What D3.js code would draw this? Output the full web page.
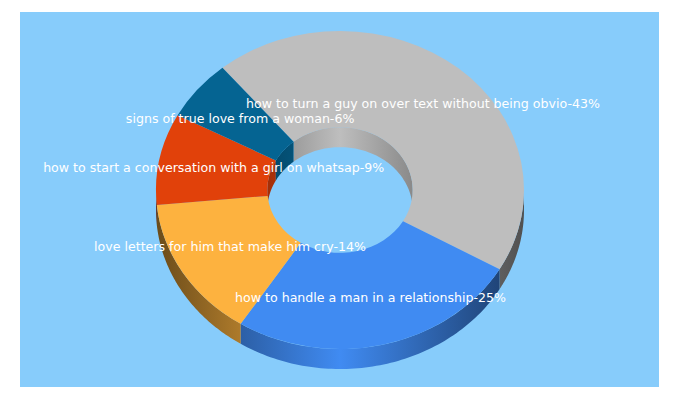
<!DOCTYPE html>
<html>
<head>
<meta charset="utf-8">
<script src="https://cdn.jsdelivr.net/npm/d3@7"></script>
<style>
  html, body { margin: 0; padding: 0; background: #fff; }
  svg { display: block; }
  text { font-family: "DejaVu Sans", sans-serif; font-size: 12.6px; fill: #fff; }
</style>
</head>
<body>
<svg id="chart" width="680" height="400"></svg>
<script>
var categories = [
  "how to turn a guy on over text without being obvio",
  "how to handle a man in a relationship",
  "love letters for him that make him cry",
  "how to start a conversation with a girl on whatsap",
  "signs of true love from a woman"
];
var percents = [43, 25, 14, 9, 6];
var colors = ["#bebebe", "#408bf2", "#fdb23f", "#e1410a", "#056492"];

var cx = 340, cy = 190, rx = 184, ry = 159, holeRatio = 0.395, depth = 20;
var startDeg = -39.7;

var svg = d3.select("#chart");
var defs = svg.append("defs");

svg.append("rect")
  .attr("x", 20).attr("y", 12)
  .attr("width", 639).attr("height", 375)
  .attr("fill", "#87ccfb");

var pie = d3.pie().sort(null)
  .startAngle(startDeg * Math.PI / 180)
  .endAngle((startDeg + 360) * Math.PI / 180);
var slices = pie(percents);

// point on the ellipse, angle clockwise from the top
function px(a, r) { return cx + rx * r * Math.sin(a); }
function py(a, r) { return cy - ry * r * Math.cos(a); }

// shade the sides by x so the ring looks lit from the middle
function sideGradient(id, color, xMin, xMax) {
  var g = defs.append("linearGradient")
    .attr("id", id)
    .attr("gradientUnits", "userSpaceOnUse")
    .attr("x1", xMin).attr("x2", xMax).attr("y1", 0).attr("y2", 0);
  [[0, 0.42], [0.5, 1], [1, 0.42]].forEach(function (s) {
    var c = d3.rgb(color);
    g.append("stop")
      .attr("offset", s[0])
      .attr("stop-color", d3.rgb(c.r * s[1], c.g * s[1], c.b * s[1]).formatHex());
  });
}

// band between an arc and the same arc moved down by depth
function wall(a0, a1, r) {
  var n = 80;
  var angles = d3.range(n + 1).map(function (i) { return a0 + (a1 - a0) * i / n; });
  var top = angles.map(function (a) { return [px(a, r), py(a, r)]; });
  var bottom = angles.slice().reverse().map(function (a) { return [px(a, r), py(a, r) + depth]; });
  return d3.line()(top.concat(bottom)) + "Z";
}

var twoPi = Math.PI * 2;

// visible part of an angle range, shifted by k turns
function clip(a0, a1, lo, hi) {
  var out = [];
  [-1, 0, 1].forEach(function (k) {
    var s = Math.max(a0 + k * twoPi, lo), e = Math.min(a1 + k * twoPi, hi);
    if (e > s) out.push([s, e]);
  });
  return out;
}

slices.forEach(function (d, i) {
  sideGradient("outer" + i, colors[i], cx - rx, cx + rx);
  sideGradient("inner" + i, colors[i], cx - rx * holeRatio * 2.1, cx + rx * holeRatio * 2.1);
});

var inner = svg.append("g");
var outer = svg.append("g");
slices.forEach(function (d, i) {
  // back half of the hole wall
  clip(d.startAngle, d.endAngle, -Math.PI / 2, Math.PI / 2).forEach(function (c) {
    inner.append("path").attr("d", wall(c[0], c[1], holeRatio)).attr("fill", "url(#inner" + i + ")");
  });
  // front half of the outer wall
  clip(d.startAngle, d.endAngle, Math.PI / 2, Math.PI * 1.5).forEach(function (c) {
    outer.append("path").attr("d", wall(c[0], c[1], 1)).attr("fill", "url(#outer" + i + ")");
  });
});

var arc = d3.arc().innerRadius(rx * holeRatio).outerRadius(rx);
svg.append("g")
  .attr("transform", "translate(" + cx + "," + cy + ") scale(1," + (ry / rx) + ")")
  .selectAll("path")
  .data(slices)
  .join("path")
  .attr("d", arc)
  .attr("fill", function (d, i) { return colors[i]; });

svg.append("g")
  .selectAll("text")
  .data(slices)
  .join("text")
  .attr("text-anchor", "middle")
  .attr("x", function (d) { return px((d.startAngle + d.endAngle) / 2, 0.7); })
  .attr("y", function (d) { return py((d.startAngle + d.endAngle) / 2, 0.7) + 3.5; })
  .text(function (d, i) { return categories[i] + "-" + percents[i] + "%"; });
</script>
</body>
</html>
